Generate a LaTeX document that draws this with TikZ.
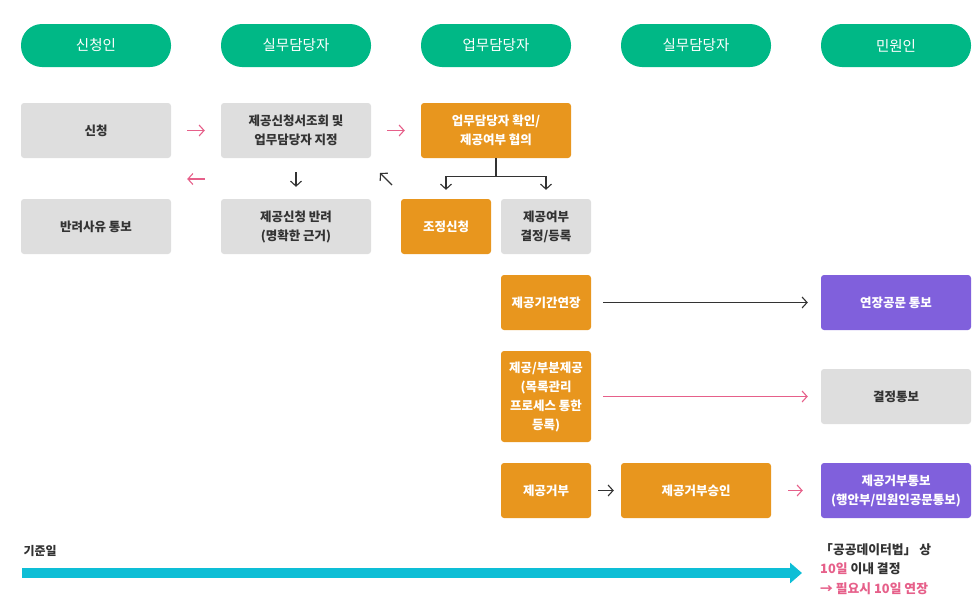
\documentclass[tikz,border=0pt]{standalone}
\usepackage{fontspec}
\setmainfont{Noto Sans CJK KR}
\usetikzlibrary{arrows.meta}
\definecolor{headgreen}{RGB}{0,184,134}
\definecolor{boxgray}{RGB}{222,222,222}
\definecolor{boxorange}{RGB}{232,150,30}
\definecolor{boxpurple}{RGB}{128,96,220}
\definecolor{arrpink}{RGB}{230,96,138}
\definecolor{axiscyan}{RGB}{14,190,214}
\definecolor{txtdark}{RGB}{51,51,51}
\tikzset{
    head/.style={fill=headgreen, text=white, rounded corners=21pt, minimum width=150pt, minimum height=43pt, inner sep=0pt, font=\fontsize{14.5}{16}\selectfont},
    cell/.style={rounded corners=3pt, minimum height=55pt, inner sep=0pt, align=center, font=\fontsize{12.5}{19}\selectfont\bfseries},
    gcell/.style={cell, fill=boxgray, text=txtdark},
    ocell/.style={cell, fill=boxorange, text=white},
    pcell/.style={cell, fill=boxpurple, text=white},
    parr/.style={draw=arrpink, line width=1.1pt, -{Straight Barb[length=5pt,width=11pt]}},
    darr/.style={draw=txtdark, line width=1.1pt, -{Straight Barb[length=5pt,width=11pt]}}
}
\begin{document}
\begin{tikzpicture}[x=1pt,y=-1pt]
    \useasboundingbox (0,0) rectangle (980,614);
    % header row
    \node[head] (h1) at (96,45.5) {신청인};
    \node[head] (h2) at (296,45.5) {실무담당자};
    \node[head] (h3) at (496,45.5) {업무담당자};
    \node[head] (h4) at (696,45.5) {실무담당자};
    \node[head] (h5) at (896,45.5) {민원인};
    % boxes
    \node[gcell, minimum width=150pt] (apply) at (96,130.5) {신청};
    \node[gcell, minimum width=150pt] (check) at (296,130.5) {제공신청서조회 및\\업무담당자 지정};
    \node[ocell, minimum width=150pt] (confer) at (496,130.5) {업무담당자 확인/\\제공여부 협의};
    \node[gcell, minimum width=150pt] (reason) at (96,226.5) {반려사유 통보};
    \node[gcell, minimum width=150pt] (reject) at (296,226.5) {제공신청 반려\\(명확한 근거)};
    \node[ocell, minimum width=90pt] (adjust) at (446,226.5) {조정신청};
    \node[gcell, minimum width=90pt] (decide) at (546,226.5) {제공여부\\결정/등록};
    \node[ocell, minimum width=90pt] (extend) at (546,302.5) {제공기간연장};
    \node[pcell, minimum width=150pt] (extnote) at (896,302.5) {연장공문 통보};
    \node[ocell, minimum width=90pt, minimum height=91pt] (provide) at (546,396.5) {제공/부분제공\\(목록관리\\프로세스 통한\\등록)};
    \node[gcell, minimum width=150pt] (decnote) at (896,396.5) {결정통보};
    \node[ocell, minimum width=90pt] (refuse) at (546,490.5) {제공거부};
    \node[ocell, minimum width=150pt] (approve) at (696,490.5) {제공거부승인};
    \node[pcell, minimum width=150pt] (refnote) at (896,490.5) {제공거부통보\\(행안부/민원인공문통보)};
    % arrows
    \draw[parr, shorten <=16pt, shorten >=16pt] (apply) -- (check);
    \draw[parr, shorten <=16pt, shorten >=16pt] (check) -- (confer);
    \draw[parr, shorten <=16pt, shorten >=16pt] ([yshift=47.5pt]reject.west) -- ([yshift=47.5pt]reason.east);
    \draw[darr, shorten <=14pt, shorten >=12pt] (check) -- (reject);
    \coordinate (up1) at (392,185);
    \coordinate (up2) at (380,173);
    \draw[darr] (up1) -- (up2);
    \draw[draw=txtdark, line width=1.1pt] (confer.south) -- ++(0,18) coordinate (split);
    \draw[darr, shorten >=9pt] (split) -| (adjust.north);
    \draw[darr, shorten >=9pt] (split) -| (decide.north);
    \draw[darr, shorten <=12pt, shorten >=13pt] (extend) -- (extnote);
    \draw[parr, shorten <=12pt, shorten >=13pt] (provide.east) -- (decnote.west);
    \draw[darr, shorten <=7pt, shorten >=7pt] (refuse) -- (approve);
    \draw[parr, shorten <=17pt, shorten >=18pt] (approve) -- (refnote);
    % time axis
    \node[anchor=west, text=txtdark, font=\fontsize{12}{14}\selectfont\bfseries] (base) at (20,551) {기준일};
    \coordinate (axstart) at (22,573);
    \coordinate (axend) at (802,573);
    \draw[axiscyan, line width=10pt, -{Triangle[length=12pt,width=20pt]}] (axstart) -- (axend);
    \node[anchor=north west, align=left, text=txtdark, inner sep=0pt, font=\fontsize{12.8}{19.5}\selectfont\bfseries] (law) at (820,543) {「공공데이터법」 상\\\textcolor{arrpink}{10일} 이내 결정\\\textcolor{arrpink}{→ 필요시 10일 연장}};
\end{tikzpicture}
\end{document}
